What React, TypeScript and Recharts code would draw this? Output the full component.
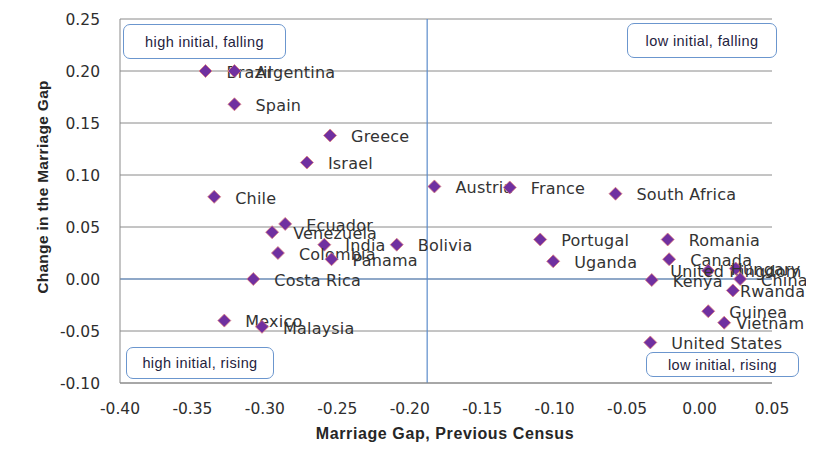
import { ScatterChart, Scatter, XAxis, YAxis, CartesianGrid, ReferenceLine, Label } from 'recharts';

// marriage gap data
const countries = [
  'Brazil', 'Argentina', 'Spain', 'Greece', 'Israel', 'Chile', 'Ecuador', 'Venezuela',
  'India', 'Bolivia', 'Colombia', 'Panama', 'Costa Rica', 'Mexico', 'Malaysia',
  'Austria', 'France', 'South Africa', 'Portugal', 'Uganda', 'Romania', 'Canada',
  'United Kingdom', 'Hungary', 'Kenya', 'China', 'Rwanda', 'Guinea', 'Vietnam', 'United States',
];
const previousGap = [
  -0.341, -0.321, -0.321, -0.255, -0.271, -0.335, -0.286, -0.295,
  -0.259, -0.209, -0.291, -0.254, -0.308, -0.328, -0.302,
  -0.183, -0.131, -0.058, -0.110, -0.101, -0.022, -0.021,
  0.006, 0.025, -0.033, 0.028, 0.023, 0.006, 0.017, -0.034,
];
const gapChange = [
  0.200, 0.200, 0.168, 0.138, 0.112, 0.079, 0.053, 0.045,
  0.033, 0.033, 0.025, 0.019, 0.000, -0.040, -0.046,
  0.089, 0.088, 0.082, 0.038, 0.017, 0.038, 0.019,
  0.008, 0.010, -0.001, 0.000, -0.011, -0.031, -0.042, -0.061,
];
const xTicks = [-0.4, -0.35, -0.3, -0.25, -0.2, -0.15, -0.1, -0.05, 0, 0.05];
const yTicks = [-0.1, -0.05, 0, 0.05, 0.1, 0.15, 0.2, 0.25];
const meanPrevious = -0.188;

// labels that were dragged off their default spot in the original
const labelShift: Record<string, number> = {
  'United Kingdom': -59,
  Hungary: -26,
  Rwanda: -14,
  Vietnam: -9,
};

const quadrants = [
  { text: 'high initial, falling', left: 123, top: 24, width: 163, height: 35 },
  { text: 'low initial, falling', left: 627, top: 23, width: 150, height: 35 },
  { text: 'high initial, rising', left: 126, top: 347, width: 148, height: 32 },
  { text: 'low initial, rising', left: 646, top: 352, width: 153, height: 25 },
];

const data = countries.map((name, i) => ({ name, x: previousGap[i], y: gapChange[i] }));

const tickStyle = { fontFamily: 'DejaVu Sans', fontSize: 15.5, fill: '#2e2e2e' };

function Diamond(props: any) {
  const { cx, cy, payload } = props;
  const r = 6.5;
  const dx = 21 + (labelShift[payload.name] || 0);
  return (
    <g>
      <path
        d={`M${cx},${cy - r} L${cx + r},${cy} L${cx},${cy + r} L${cx - r},${cy} Z`}
        fill="#7030A0"
        stroke="#E08080"
        strokeWidth={0.8}
      />
      <text
        x={cx + dx}
        y={cy + 1}
        dy="0.36em"
        fontFamily="DejaVu Sans"
        fontSize={16}
        letterSpacing={0.2}
        fill="#333"
      >
        {payload.name}
      </text>
    </g>
  );
}

export default function App() {
  return (
    <div style={{ position: 'relative', width: 814, height: 461, margin: -8, background: '#fff' }}>
      <div
        style={{
          position: 'absolute', left: 2, top: 2, width: 807, height: 455,
          border: '1px solid #a8a8a8',
        }}
      />
      <ScatterChart
        width={814}
        height={461}
        margin={{ top: 19, right: 42, bottom: 0, left: 0 }}
        style={{ position: 'absolute', left: 0, top: 0, overflow: 'visible' }}
      >
        <CartesianGrid vertical={false} stroke="#8a8a8a" />
        <XAxis
          type="number"
          dataKey="x"
          domain={[-0.4, 0.05]}
          ticks={xTicks}
          tickFormatter={(v: number) => v.toFixed(2)}
          tick={tickStyle}
          tickLine={false}
          tickSize={0}
          tickMargin={20}
          axisLine={{ stroke: '#8a8a8a' }}
          height={78}
        >
          <Label
            content={() => (
              <text
                x={445}
                y={433}
                textAnchor="middle"
                dominantBaseline="central"
                fontFamily="Liberation Sans"
                fontWeight="bold"
                fontSize={16}
                letterSpacing={0.6}
                fill="#262626"
              >
                Marriage  Gap, Previous Census
              </text>
            )}
          />
        </XAxis>
        <YAxis
          type="number"
          dataKey="y"
          domain={[-0.1, 0.25]}
          ticks={yTicks}
          tickFormatter={(v: number) => v.toFixed(2)}
          tick={tickStyle}
          tickLine={false}
          tickSize={0}
          tickMargin={20}
          axisLine={{ stroke: '#8a8a8a' }}
          width={120}
        >
          <Label
            content={() => (
              <text
                x={42}
                y={187}
                transform="rotate(-90 42 187)"
                textAnchor="middle"
                dominantBaseline="central"
                fontFamily="Liberation Sans"
                fontWeight="bold"
                fontSize={15.5}
                letterSpacing={0.3}
                fill="#262626"
              >
                Change in the Marriage Gap
              </text>
            )}
          />
        </YAxis>
        <ReferenceLine y={0} stroke="#5B8CCB" strokeWidth={1.2} />
        <ReferenceLine x={meanPrevious} stroke="#5B8CCB" strokeWidth={1.2} />
        <Scatter data={data} shape={Diamond} isAnimationActive={false} />
      </ScatterChart>
      {quadrants.map((q) => (
        <div
          key={q.text}
          style={{
            position: 'absolute',
            left: q.left,
            top: q.top,
            width: q.width,
            height: q.height,
            boxSizing: 'border-box',
            border: '1.5px solid #6B96CE',
            borderRadius: 7,
            background: '#fff',
            display: 'flex',
            alignItems: 'center',
            justifyContent: 'center',
            fontFamily: 'Liberation Sans',
            fontSize: 14.5,
            letterSpacing: 0.4,
            color: '#1f2340',
          }}
        >
          {q.text}
        </div>
      ))}
    </div>
  );
}
